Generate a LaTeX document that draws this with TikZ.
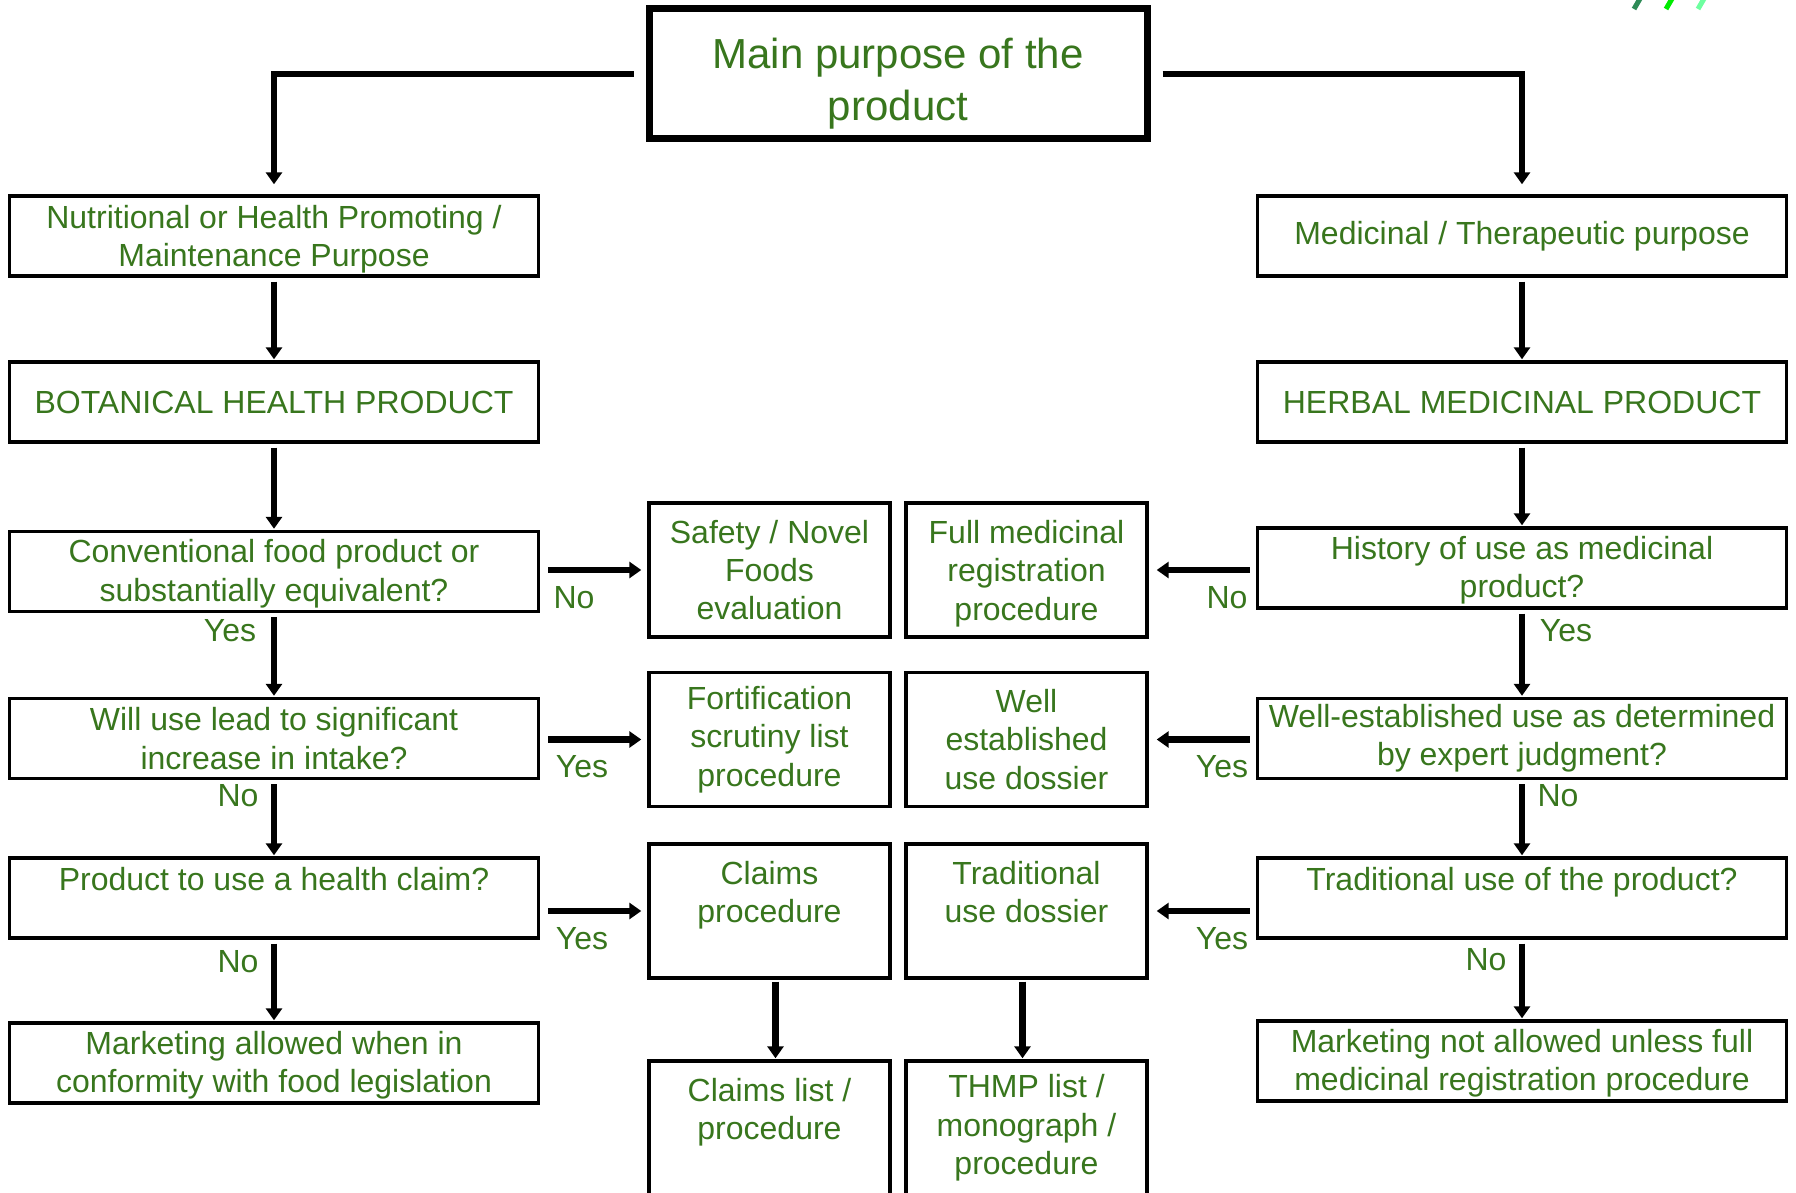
\documentclass[tikz,border=0pt]{standalone}
\usepackage{fontspec}
\setmainfont{Liberation Sans}
\usetikzlibrary{arrows.meta, positioning}
\definecolor{leaf}{RGB}{56,118,29}
\definecolor{markA}{RGB}{46,139,87}
\definecolor{markB}{RGB}{0,235,0}
\definecolor{markC}{RGB}{110,255,160}

\begin{document}
\begin{tikzpicture}[
    x=0.5pt, y=-0.5pt,
    box/.style={rectangle, draw=black, line width=1.7pt, minimum width=264.5pt, minimum height=40pt, align=center, text=leaf, font=\fontsize{16}{19.2}\selectfont, inner sep=1pt},
    proc/.style={box, minimum width=120.5pt, minimum height=67pt},
    topbox/.style={box, line width=3.5pt, minimum width=249pt, minimum height=65pt, font=\fontsize{21}{26}\selectfont},
    lbl/.style={text=leaf, font=\fontsize{16}{19.2}\selectfont, inner sep=0pt},
    arr/.style={-{Triangle[length=6pt, width=8pt]}, line width=3.2pt, black},
]
\useasboundingbox (0,0) rectangle (1796,1193);
\clip (0,0) rectangle (1796,1193);

% Logo marks
\draw[markA, line width=2.5pt] (1634,9) -- (1641,-3);
\draw[markB, line width=2.5pt] (1666,9) -- (1673,-3);
\draw[markC, line width=2.5pt] (1698,9) -- (1705,-3);

% Main question
\node[topbox] (main) at (898,74) {\rule{0pt}{24.5pt}Main purpose of the\\product};

% Food side
\node[box] (nhp) at (274,236) {\rule{0pt}{15pt}Nutritional or Health Promoting /\\Maintenance Purpose};
\node[box] (bhp) at (274,402) {BOTANICAL HEALTH PRODUCT};
\node[box] (conv) at (274,571.5) {\rule{0pt}{14pt}Conventional food product or\\substantially equivalent?};
\node[box] (intake) at (274,738.5) {Will use lead to significant\\increase in intake?};
\node[box] (claim) at (274,898) {Product to use a health claim?\\~};
\node[box] (foodmkt) at (274,1063) {\rule{0pt}{14pt}Marketing allowed when in\\conformity with food legislation};

% Medicinal side
\node[box] (mtp) at (1522,236) {Medicinal / Therapeutic purpose};
\node[box] (hmp) at (1522,402) {HERBAL MEDICINAL PRODUCT};
\node[box] (hist) at (1522,568) {\rule{0pt}{14pt}History of use as medicinal\\product?};
\node[box] (wellq) at (1522,738.5) {Well-established use as determined\\by expert judgment?};
\node[box] (trad) at (1522,898) {Traditional use of the product?\\~};
\node[box] (medmkt) at (1522,1061) {\rule{0pt}{14pt}Marketing not allowed unless full\\medicinal registration procedure};

% Procedures
\node[proc] (novel) at (769.5,570) {Safety / Novel\\Foods\\evaluation};
\node[proc] (fullreg) at (1026.5,570) {\rule{0pt}{15pt}Full medicinal\\registration\\procedure};
\node[proc] (fortif) at (769.5,739.5) {Fortification\\scrutiny list\\procedure};
\node[proc] (wellud) at (1026.5,739.5) {Well\\established\\use dossier};
\node[proc] (claimsp) at (769.5,911) {Claims\\procedure\\~};
\node[proc] (tradd) at (1026.5,911) {Traditional\\use dossier\\~};
\node[proc] (claimsl) at (769.5,1128) {Claims list /\\procedure\\~};
\node[proc] (thmp) at (1026.5,1128) {THMP list /\\monograph /\\procedure};

% Arrows from the top
\draw[arr, shorten <=6pt, shorten >=5pt] (main.west) -| (nhp.north);
\draw[arr, shorten <=6pt, shorten >=5pt] (main.east) -| (mtp.north);

% Food column
\draw[arr, shorten <=2pt, shorten >=0.5pt] (nhp) -- (bhp);
\draw[arr, shorten <=2pt, shorten >=0.5pt] (bhp) -- (conv);
\draw[arr, shorten <=2pt, shorten >=0.5pt] (conv) -- (intake);
\draw[arr, shorten <=2pt, shorten >=0.5pt] (intake) -- (claim);
\draw[arr, shorten <=2pt, shorten >=0.5pt] (claim) -- (foodmkt);

% Medicinal column
\draw[arr, shorten <=2pt, shorten >=0.5pt] (mtp) -- (hmp);
\draw[arr, shorten <=2pt, shorten >=0.5pt] (hmp) -- (hist);
\draw[arr, shorten <=2pt, shorten >=0.5pt] (hist) -- (wellq);
\draw[arr, shorten <=2pt, shorten >=0.5pt] (wellq) -- (trad);
\draw[arr, shorten <=2pt, shorten >=0.5pt] (trad) -- (medmkt);

% Sideways arrows
\draw[arr, shorten <=4pt, shorten >=3pt] (conv.east |- novel.west) -- (novel.west);
\draw[arr, shorten <=4pt, shorten >=3pt] (intake.east |- fortif.west) -- (fortif.west);
\draw[arr, shorten <=4pt, shorten >=3pt] (claim.east |- claimsp.west) -- (claimsp.west);
\draw[arr, shorten <=3pt, shorten >=4pt] (hist.west |- fullreg.east) -- (fullreg.east);
\draw[arr, shorten <=3pt, shorten >=4pt] (wellq.west |- wellud.east) -- (wellud.east);
\draw[arr, shorten <=3pt, shorten >=4pt] (trad.west |- tradd.east) -- (tradd.east);

% Down to the lists
\draw[arr, shorten <=1pt, shorten >=0.5pt] ([xshift=3pt]claimsp.south) -- ([xshift=3pt]claimsl.north);
\draw[arr, shorten <=1pt, shorten >=0.5pt] ([xshift=-2pt]tradd.south) -- ([xshift=-2pt]thmp.north);

% Yes / No labels
\node[lbl] (cyes) at (230,631) {Yes};
\node[lbl] (ino) at (238,796) {No};
\node[lbl] (clno) at (238,962) {No};
\node[lbl] (hyes) at (1566,631) {Yes};
\node[lbl] (wno) at (1558,796) {No};
\node[lbl] (tno) at (1486,960) {No};
\node[lbl] (convno) at (574,598) {No};
\node[lbl] (intyes) at (582,767) {Yes};
\node[lbl] (clyes) at (582,939) {Yes};
\node[lbl] (histno) at (1227,598) {No};
\node[lbl] (wyes) at (1222,767) {Yes};
\node[lbl] (tyes) at (1222,939) {Yes};

\end{tikzpicture}
\end{document}
